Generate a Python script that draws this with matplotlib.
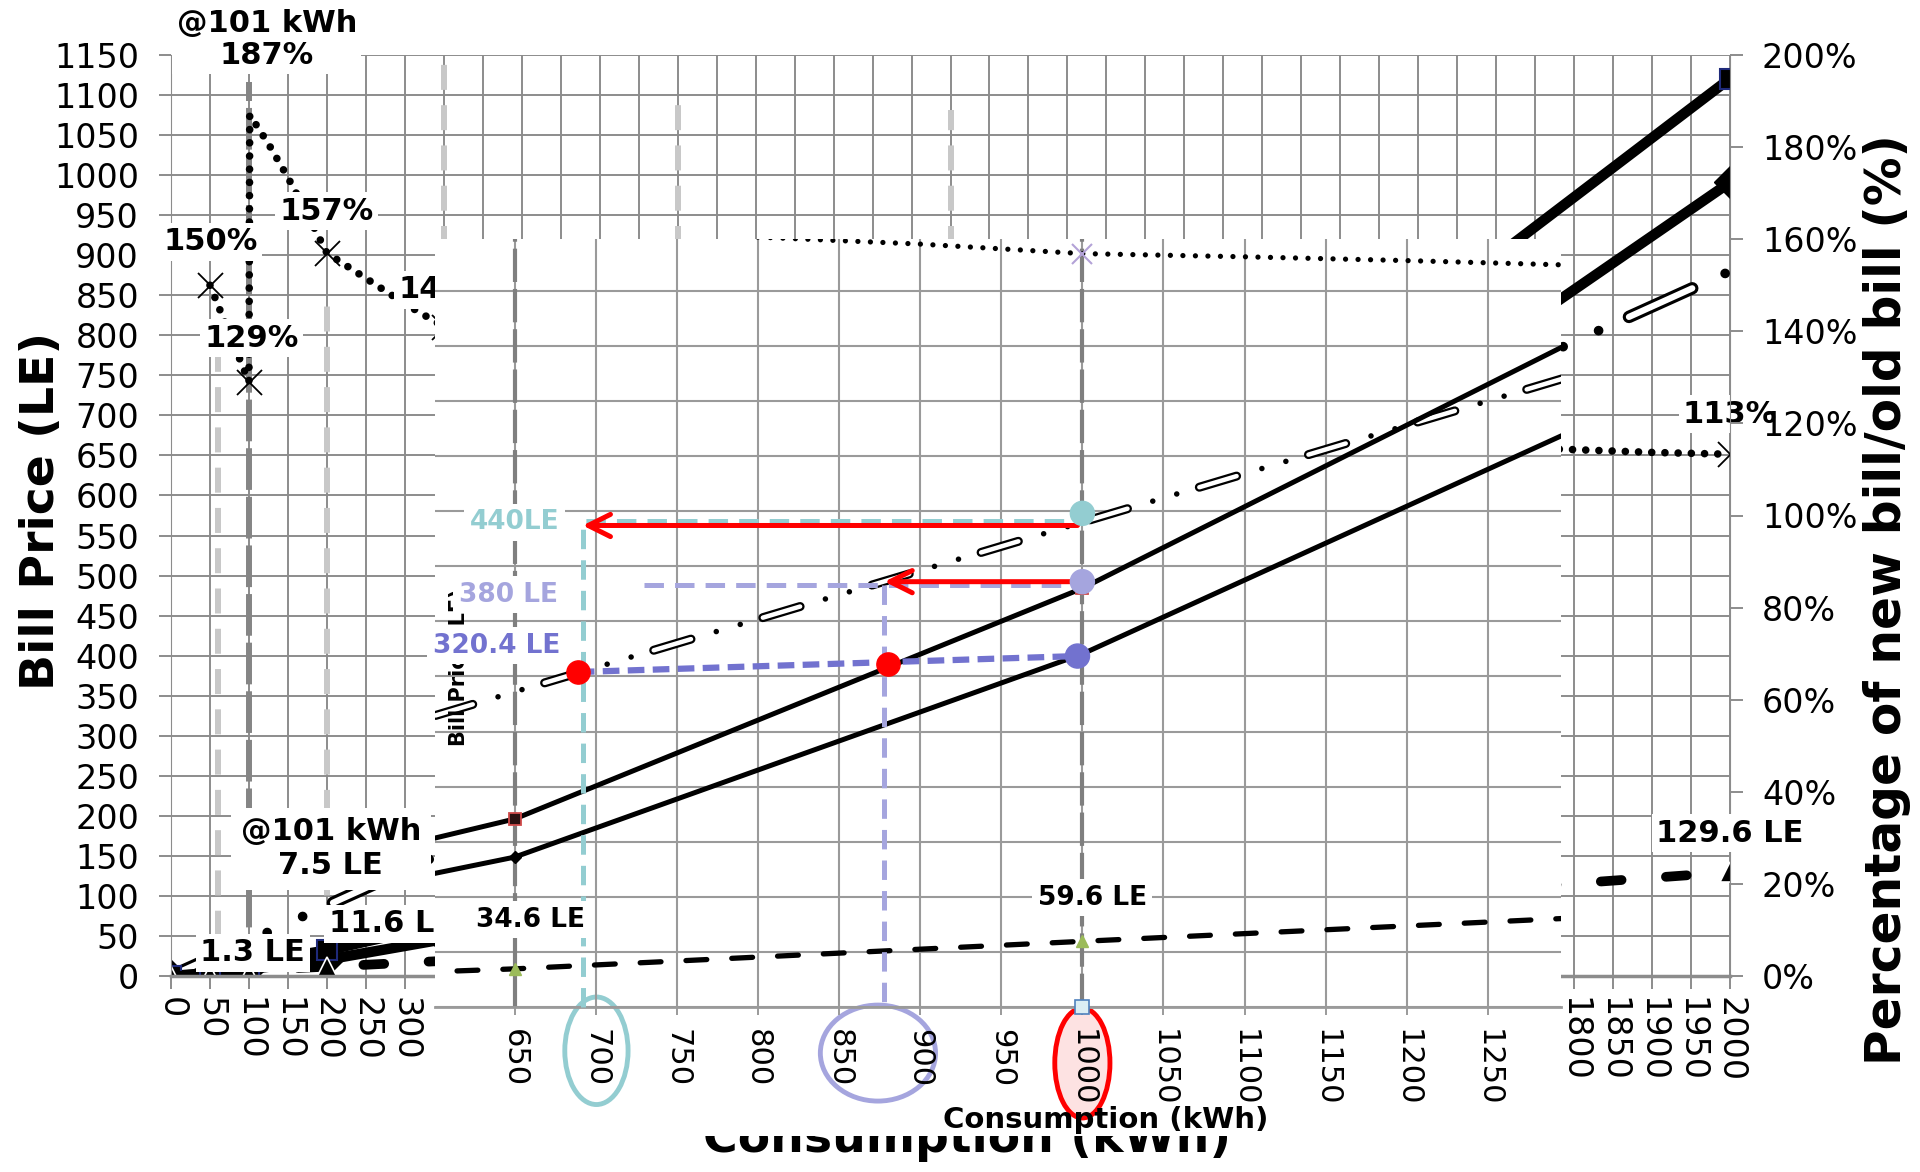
"""
Bill price (LE) against consumption (kWh), new bill / old bill ratio on
the right axis, with a zoomed copy of the 600-1300 kWh range pasted on top.
"""
import matplotlib
matplotlib.use("Agg")
import matplotlib.pyplot as plt
import matplotlib.transforms as mtransforms
from matplotlib.patches import Rectangle, Ellipse
from matplotlib.ticker import PercentFormatter

plt.rcParams['font.family'] = ['DejaVu Sans']
plt.rcParams['lines.scale_dashes'] = False

W, H = 1920, 1172

# consumption steps (kWh) and the bills (LE)
kwh = [0, 50, 100, 101, 200, 350, 650, 1000, 2000]
new_bill = [0, 3.8, 11.0, 16.1, 32.0, 64.9, 170.6, 380.0, 1120.6]
old_bill = [0, 2.5, 8.5, 8.6, 20.4, 46.0, 136.0, 320.4, 991.0]
bill_diff = [0, 1.3, 2.5, 7.5, 11.6, 18.9, 34.6, 59.6, 129.6]
marks = [0, 1, 2, 4, 5, 6, 7, 8]          # no marker at 101 kWh
zoom_marks = [6, 7]                       # 650 and 1000 kWh

# flat rate bill
flat_kwh = [0, 1000, 2000]
flat_bill = [0, 440, 880]

# new bill / old bill (%)
ratio_kwh = [50, 100, 101, 125, 150, 175, 200, 250, 300, 350, 650, 1000, 1800, 1900, 2000]
ratio_pct = [150, 129, 187, 180.7, 173.4, 165.4, 157, 151.5, 146, 141, 125.4, 118.6, 114.3, 113.7, 113.3]
ratio_marks = [0, 1, 6, 9, 10, 11, 14]

# the ratio as it shows on the zoomed picture
zoom_ratio_kwh = [800, 900, 1000, 1100, 1200, 1300]
zoom_ratio_pct = [121.2, 120.1, 118.6, 118.1, 117.5, 116.8]

# tier boundaries (kWh) and how high their dashes go (LE)
light_tiers = [60, 200, 350, 650, 1000]
light_tops = [820, 850, 1145, 1088, 1081]
dark_tiers = [100]
dark_tops = [1116]
zoom_tiers = [650, 1000]

# hand drawn reading on the zoom: bills at 1000 kWh and equal-bill points
read_kwh = 1000
read_levels = [448, 386, 318.5]           # flat, new, old
equal_kwh = [689, 880]
equal_bill = [304, 311]


def hollow_dashdot(axis, x, y, width, dash, gaps, dot):
    """white dash with black outline, followed by two dots"""
    period = dash + sum(gaps)
    style = (0, (dash, period - dash))
    axis.plot(x, y, color='black', lw=width, ls=style, dash_capstyle='round')
    axis.plot(x, y, color='white', lw=width * 0.5, ls=style, dash_capstyle='round')
    first = dash + gaps[0]
    axis.plot(x, y, color='black', lw=dot, dash_capstyle='round',
              ls=(period - first, (0.01, gaps[1], 0.01, period - gaps[1] - 0.02)))


fig = plt.figure(figsize=(19.2, 11.72), dpi=100)

# ---------------- main chart ----------------
ax = fig.add_axes([171 / W, 1 - 976 / H, 1559 / W, 921 / H])
ax.set_xlim(0, 2000)
ax.set_ylim(0, 1150)
xt = list(range(0, 2001, 50))
ax.set_xticks(xt)
# labels under the pasted zoom are not seen
ax.set_xticklabels([str(v) if v <= 350 or v >= 1800 else '' for v in xt])
ax.set_yticks(range(0, 1151, 50))
ax.grid(True, color='#8c8c8c', lw=1.4)
ax.tick_params(direction='out', length=9, width=1.4, color='#8c8c8c', labelsize=24)
ax.tick_params(axis='y', pad=14)
ax.tick_params(axis='x', labelrotation=270, pad=6)
for s in ['top', 'right']:
    ax.spines[s].set_visible(False)
ax.spines['left'].set_color('#8c8c8c')
ax.spines['bottom'].set_color('#8c8c8c')
ax.spines['bottom'].set_linewidth(2.5)

ax.vlines(light_tiers, 0, light_tops, colors='#c8c8c8', lw=4.3, ls=(0, (18, 11)))
ax.vlines(dark_tiers, 0, dark_tops, colors='#858585', lw=4.3, ls=(0, (30, 5)))

hollow_dashdot(ax, flat_kwh, flat_bill, 9, 50, (26, 28, 24), 7)
ax.plot(kwh, old_bill, color='black', lw=7.5, marker='D', ms=16, markevery=marks)
ax.plot(kwh, new_bill, color='black', lw=7.5, marker='s', ms=15, mec='#1f2a7a',
        mew=1.5, markevery=marks)
ax.plot(kwh, bill_diff, color='black', lw=7, ls=(0, (15, 32)), dash_capstyle='round',
        marker='^', ms=15, mec='white', mew=1.2, markevery=marks)

ax2 = ax.twinx()
ax2.set_ylim(0, 200)
ax2.set_yticks(range(0, 201, 20))
ax2.yaxis.set_major_formatter(PercentFormatter(decimals=0))
ax2.tick_params(direction='out', length=9, width=1.4, color='#8c8c8c', labelsize=24, pad=14)
for s in ['top', 'left', 'bottom']:
    ax2.spines[s].set_visible(False)
ax2.spines['right'].set_color('#8c8c8c')
ax2.plot(ratio_kwh, ratio_pct, color='black', lw=5.5, ls=(0, (0.01, 9.5)),
         dash_capstyle='round', marker='x', ms=18, mew=1.3, markevery=ratio_marks)

lab = dict(fontsize=22, fontweight='bold', ha='center', va='center', zorder=10,
           clip_on=False, bbox=dict(facecolor='white', edgecolor='none', pad=3))
ax2.text(123, 203.4, '@101 kWh\n187%', linespacing=1.15, **lab)
ax2.text(51, 159.4, '150%', **lab)
ax2.text(200, 166.1, '157%', **lab)
ax2.text(103, 138.5, '129%', **lab)
ax2.text(352, 149, '141%', **lab)
lab_wide = dict(lab, bbox=dict(facecolor='white', edgecolor='none', pad=7))
ax2.text(205, 159, '@101 kWh\n7.5 LE', transform=ax.transData, linespacing=1.2, **lab_wide)
ax2.text(283, 65, '11.6 LE', transform=ax.transData, **lab)
ax2.text(105, 29, '1.3 LE', transform=ax.transData, **lab)
ax2.text(2000, 178.5, '129.6 LE', transform=ax.transData, **lab)
lab113 = dict(lab, zorder=1.2)
ax2.text(2000, 122, '113%', **lab113)

fig.text(42 / W, 1 - 511 / H, 'Bill Price (LE)', rotation=90, fontsize=34,
         fontweight='bold', ha='center', va='center')
fig.text(1887 / W, 1 - 600 / H, 'Percentage of new bill/old bill (%)', rotation=90,
         fontsize=35, fontweight='bold', ha='center', va='center')
fig.text(967 / W, 1 - 1152 / H, 'Consumption (kWh)', fontsize=34, fontweight='bold',
         ha='center', va='baseline', zorder=0.5)

# white sheet of the pasted zoom picture
fig.add_artist(Rectangle((435 / W, 1 - 1136 / H), 1126 / W, 897 / H,
                         transform=fig.transFigure, facecolor='white',
                         edgecolor='none', zorder=1))

# ---------------- zoomed chart ----------------
ax_in = fig.add_axes([435 / W, 1 - 1007 / H, 1126 / W, 768 / H], zorder=2)
ax_in.set_facecolor('white')
ax_in.set_xlim(601, 1295)
ax_in.set_ylim(0, 697)
ax_in.set_xticks(range(650, 1251, 50))
ax_in.set_yticks(range(0, 651, 50))
ax_in.grid(True, color='#9a9a9a', lw=1.5)
ax_in.tick_params(axis='y', length=0, labelleft=False)
ax_in.tick_params(axis='x', direction='out', length=6, width=1.4, color='#9a9a9a',
                  labelsize=22, labelrotation=270, pad=10)
for s in ['top', 'right', 'left']:
    ax_in.spines[s].set_visible(False)
ax_in.spines['bottom'].set_color('#9a9a9a')
ax_in.spines['bottom'].set_linewidth(2)

ax_in.vlines(zoom_tiers, 0, 697, colors='#7f7f7f', lw=3, ls=(0, (24, 5)))
hollow_dashdot(ax_in, flat_kwh, flat_bill, 6.5, 28, (19, 18, 17), 4)
ax_in.plot(kwh, old_bill, color='black', lw=3.6, marker='D', ms=6, markevery=zoom_marks)
ax_in.plot(kwh, new_bill, color='black', lw=3.6, marker='s', ms=8, mfc='#2a1010',
           mec='#d04a4a', mew=1.3, markevery=zoom_marks)
ax_in.plot(kwh, bill_diff, color='black', lw=3.8, ls=(0, (15, 18)), dash_capstyle='round',
           marker='^', ms=8, mfc='#9bbb59', mec='#9bbb59', markevery=zoom_marks)
ax_in.plot([kwh[7]], [0], marker='s', ms=10, mfc='#dbeef4', mec='#4f81bd',
           mew=1.2, clip_on=False, zorder=4)

# reading lines
cyan, lilac, purple = '#93cdd1', '#a5a5de', '#7272cf'
ax_in.plot([equal_kwh[0] + 3, equal_kwh[0] + 3, read_kwh], [0, 441, 441], color=cyan,
           lw=3.6, ls=(0, (14, 8)), zorder=3, clip_on=False)
ax_in.plot([730, read_kwh], [383, 383], color=lilac, lw=3.6, ls=(0, (14, 8)), zorder=3)
ax_in.plot([878, 878], [383, 0], color=lilac, lw=3.6, ls=(0, (14, 8)), zorder=3)
ax_in.plot([equal_kwh[0], read_kwh - 3], [equal_bill[0], read_levels[2]], color=purple,
           lw=4.5, ls=(0, (12, 6)), zorder=3)
arrow = dict(arrowstyle='->,head_length=1.6,head_width=0.8', color='red', lw=3.6,
             shrinkA=0, shrinkB=0)
ax_in.annotate('', xy=(692, 437), xytext=(read_kwh - 3, 437), arrowprops=arrow, zorder=4)
ax_in.annotate('', xy=(878, 386), xytext=(read_kwh - 3, 386), arrowprops=arrow, zorder=4)
ax_in.scatter([read_kwh, read_kwh, read_kwh - 3], read_levels, s=300,
              c=[cyan, lilac, purple], zorder=5)
ax_in.scatter(equal_kwh, equal_bill, s=280, c='#ff0000', zorder=5)

# tick label rings
blend = mtransforms.blended_transform_factory(ax_in.transData, ax_in.transAxes)
ax_in.add_patch(Ellipse((700.5, -0.057), 39, 0.14, transform=blend, fill=False,
                        ec=cyan, lw=3.5, clip_on=False, zorder=1))
ax_in.add_patch(Ellipse((874, -0.060), 71, 0.125, transform=blend, fill=False,
                        ec=lilac, lw=3.5, clip_on=False, zorder=1))
ax_in.add_patch(Ellipse((1000, -0.073), 34, 0.143, transform=blend, fc='#fde2e2',
                        ec='red', lw=3.5, clip_on=False, zorder=1))

ilab = dict(fontsize=19, fontweight='bold', ha='center', va='center', zorder=6,
            bbox=dict(facecolor='white', edgecolor='none', pad=4))
ax_in.text(616, 308, 'Bill Price (LE)', rotation=90, fontsize=15, fontweight='bold',
           ha='center', va='center', zorder=2.5)
ax_in.text(660, 79, '34.6 LE', **ilab)
ax_in.text(1006, 99, '59.6 LE', **ilab)
ax_in.text(650, 440, '440LE', color=cyan, **ilab)
ax_in.text(646, 374, '380 LE', color=lilac, **ilab)
ax_in.text(639, 328, '320.4 LE', color=purple, **ilab)
ax_in.text(0.596, -0.147, 'Consumption (kWh)', transform=ax_in.transAxes, fontsize=21,
           fontweight='bold', ha='center', va='center', zorder=6)

ax_in2 = ax_in.twinx()
ax_in2.set_zorder(2.1)
ax_in2.set_ylim(0, 120.9)
ax_in2.set_yticks([])
for s in ax_in2.spines.values():
    s.set_visible(False)
ax_in2.plot(zoom_ratio_kwh, zoom_ratio_pct, color='black', lw=3.8, ls=(0, (0.01, 9)),
            dash_capstyle='round')
ax_in2.plot([read_kwh], [zoom_ratio_pct[2]], ls='none', marker='x', ms=15, mew=1.5,
            color='#b3a2d7')

fig.savefig('out.png', dpi=100)
